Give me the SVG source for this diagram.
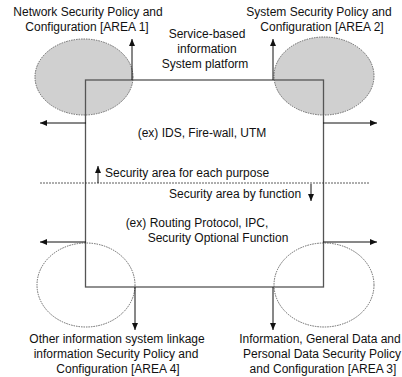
<svg xmlns="http://www.w3.org/2000/svg" width="402" height="377" viewBox="0 0 402 377">
<style>
text{font-family:"Liberation Sans",Arial,sans-serif;font-size:12px;fill:#111}
.fill{fill:#d0d0d0;stroke:#666;stroke-width:1;stroke-dasharray:1.5 1}
.open{fill:none;stroke:#666;stroke-width:1;stroke-dasharray:1.5 1}
.frame{fill:none;stroke:#555;stroke-width:1.3}
.arr{stroke:#111;stroke-width:1;fill:none;marker-end:url(#ah)}
.mid{text-anchor:middle}
</style>
<defs>
<marker id="ah" markerWidth="8" markerHeight="8" refX="7" refY="4" orient="auto" markerUnits="userSpaceOnUse">
<path d="M0,1 L7,4 L0,7 z" fill="#111"/>
</marker>
</defs>
<rect width="402" height="377" fill="#fff"/>
<g id="area1"><ellipse class="fill" cx="84" cy="77" rx="49" ry="38"/>
<text class="mid" x="88" y="16">Network Security Policy and</text>
<text class="mid" x="87" y="31">Configuration [AREA 1]</text></g>
<g id="area2"><ellipse class="fill" cx="324" cy="76" rx="50" ry="39"/>
<text class="mid" x="319" y="16">System Security Policy and</text>
<text class="mid" x="322" y="31">Configuration [AREA 2]</text></g>
<g id="area4"><ellipse class="open" cx="86" cy="285" rx="49" ry="42"/>
<text class="mid" x="117" y="343">Other information system linkage</text>
<text class="mid" x="116" y="358">information Security Policy and</text>
<text class="mid" x="118" y="373">Configuration [AREA 4]</text></g>
<g id="area3"><ellipse class="open" cx="324" cy="285" rx="50" ry="42"/>
<text class="mid" x="320" y="343">Information, General Data and</text>
<text class="mid" x="322" y="358">Personal Data Security Policy</text>
<text class="mid" x="323" y="373">and Configuration [AREA 3]</text></g>
<g id="platform"><rect class="frame" x="85.5" y="80" width="238" height="207"/>
<text class="mid" x="207" y="38">Service-based</text>
<text class="mid" x="207" y="53">information</text>
<text class="mid" x="205" y="68">System platform</text>
<text class="mid" x="202" y="137">(ex) IDS, Fire-wall, UTM</text>
<text class="mid" x="197" y="227">(ex) Routing Protocol, IPC,</text>
<text class="mid" x="218" y="242">Security Optional Function</text>
<line x1="40" y1="183" x2="370" y2="183" stroke="#333" stroke-width="0.8" stroke-dasharray="2 1"/>
<text x="105" y="177">Security area for each purpose</text>
<text x="169" y="198">Security area by function</text></g>
<g id="connectors">
<line class="arr" x1="132" y1="80" x2="132" y2="39"/>
<line class="arr" x1="86" y1="123" x2="40" y2="123"/>
<line class="arr" x1="273" y1="80" x2="273" y2="39"/>
<line class="arr" x1="323" y1="123" x2="377" y2="123"/>
<line class="arr" x1="86" y1="242" x2="40" y2="242"/>
<line class="arr" x1="323" y1="242" x2="377" y2="242"/>
<line class="arr" x1="135" y1="287" x2="135" y2="330"/>
<line class="arr" x1="273" y1="287" x2="273" y2="330"/>
<line class="arr" x1="98" y1="183" x2="98" y2="166"/>
<line class="arr" x1="311" y1="184" x2="311" y2="201"/>
</g>
</svg>
